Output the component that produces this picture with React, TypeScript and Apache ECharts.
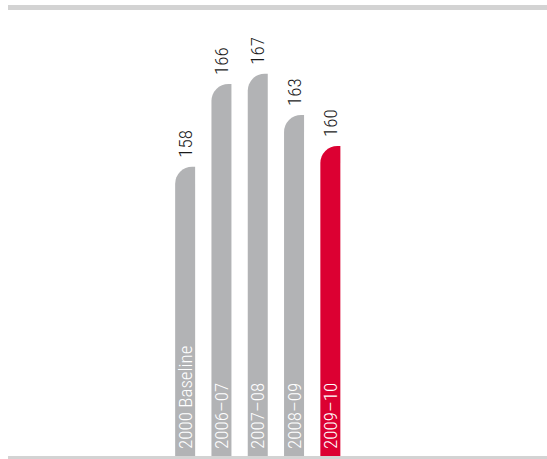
import React, { useEffect, useRef } from "react";
import * as echarts from "echarts";

const categories = ["2000 Baseline", "2006–07", "2007–08", "2008–09", "2009–10"];
const values = [158, 166, 167, 163, 160];
const barColors = ["#b2b3b5", "#b2b3b5", "#b2b3b5", "#b2b3b5", "#dc0032"];

const FONT = "'Roboto Condensed', 'Liberation Sans', sans-serif";

export default function App() {
  const ref = useRef<HTMLDivElement>(null);
  useEffect(() => {
    if (!ref.current) return;
    const chart = echarts.init(ref.current, null, { renderer: "svg" });
    chart.setOption({
      animation: false,
      backgroundColor: "#ffffff",
      grid: { left: 167, width: 181.5, top: 42.7, bottom: 3, containLabel: false },
      xAxis: {
        type: "category",
        data: categories,
        z: 10,
        axisLine: { show: false },
        axisTick: { show: false },
        axisLabel: {
          inside: true,
          rotate: 90,
          margin: 7,
          color: "#ffffff",
          fontFamily: FONT,
          fontWeight: 300,
          fontSize: 19,
          align: "left",
          verticalAlign: "middle",
          interval: 0,
        },
      },
      yAxis: {
        type: "value",
        min: 130,
        max: 170,
        show: false,
        splitLine: { show: false },
      },
      series: [
        {
          type: "bar",
          barWidth: 20,
          data: values.map((v, i) => ({
            value: v,
            itemStyle: { color: barColors[i], borderRadius: [17, 0, 0, 0] },
          })),
          label: {
            show: true,
            position: "top",
            rotate: 90,
            distance: 9,
            align: "left",
            verticalAlign: "middle",
            color: "#1a1a1a",
            fontFamily: FONT,
            fontWeight: 300,
            fontSize: 19,
          },
        },
      ],
      graphic: [
        { type: "rect", shape: { x: 8, y: 5, width: 539, height: 5 }, style: { fill: "#d3d3d3" } },
        { type: "rect", shape: { x: 8, y: 456, width: 539, height: 3 }, style: { fill: "#d3d3d3" } },
      ],
    });
    return () => chart.dispose();
  }, []);
  return (
    <div
      ref={ref}
      style={{ position: "fixed", left: 0, top: 0, width: 547, height: 459 }}
    />
  );
}
